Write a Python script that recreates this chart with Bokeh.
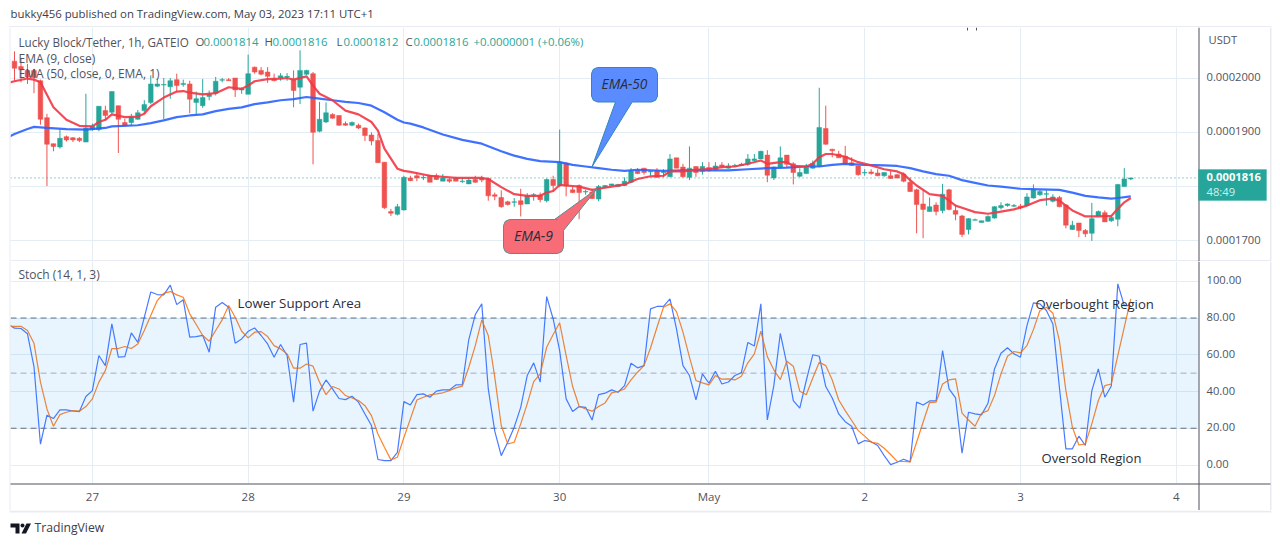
from bokeh.embed import file_html
from bokeh.layouts import column
from bokeh.models import (BoxAnnotation, ColumnDataSource, FixedTicker, Label,
                          Range1d)
from bokeh.plotting import figure
from bokeh.resources import INLINE

# ---- data (prices in units of 0.0000001 USDT, index = hourly bar) ----
opens = [
 2031,2021,2014,2014,1995,1927,1879,1873,1892,1890,
 1889,1882,1905,1905,1940,1937,1949,1918,1918,1924,
 1940,1955,1985,1987,1984,1997,1988,1989,1955,1949,
 1966,1972,1996,1997,2000,1978,1970,2020,2014,2011,
 1998,2000,2002,1997,1983,2007,2008,1902,1919,1933,
 1931,1916,1913,1913,1908,1895,1885,1845,1754,1749,
 1757,1816,1820,1816,1821,1820,1810,1813,1816,1809,
 1805,1813,1816,1815,1785,1780,1772,1771,1774,1768,
 1784,1784,1774,1813,1802,1843,1794,1802,1790,1790,
 1777,1799,1802,1800,1802,1808,1829,1834,1827,1829,
 1826,1818,1853,1836,1817,1837,1828,1835,1831,1840,
 1834,1838,1839,1841,1848,1851,1858,1816,1836,1858,
 1842,1819,1824,1834,1838,1907,1869,1860,1856,1844,
 1838,1825,1827,1825,1820,1820,1822,1823,1808,1794,
 1768,1754,1766,1756,1794,1756,1746,1721,1738,1734,
 1736,1742,1761,1765,1764,1764,1765,1779,1785,1786,
 1773,1780,1766,1721,1733,1719,1714,1746,1752,1737,
 1740,1800,1814]
highs = [
 2049,2035,2026,2017,1997,1934,1879,1906,1894,1891,
 1891,1971,1916,1948,1949,1975,1949,1925,1934,1941,
 1959,2005,1998,2000,2000,2008,1997,1995,1975,1998,
 1977,2002,2000,2000,2000,1983,2043,2021,2020,2020,
 2008,2009,2009,2014,2051,2015,2011,1956,1955,1935,
 1931,1920,1920,1916,1909,1900,1897,1845,1759,1768,
 1820,1820,1826,1821,1821,1824,1823,1817,1818,1816,
 1817,1820,1820,1817,1789,1793,1774,1779,1796,1788,
 1788,1789,1815,1820,1905,1845,1800,1804,1794,1796,
 1803,1803,1805,1805,1817,1834,1834,1834,1829,1834,
 1832,1860,1853,1842,1874,1837,1845,1845,1845,1845,
 1843,1842,1844,1860,1860,1866,1867,1837,1874,1858,
 1845,1834,1842,1848,1982,1949,1869,1866,1875,1854,
 1838,1832,1832,1832,1826,1829,1823,1826,1817,1796,
 1793,1780,1771,1805,1796,1765,1748,1742,1741,1737,
 1747,1764,1771,1769,1768,1768,1788,1804,1794,1793,
 1786,1783,1768,1737,1733,1722,1770,1756,1756,1746,
 1805,1834,1816]
lows = [
 1995,1992,1989,1972,1914,1801,1865,1870,1883,1882,
 1882,1882,1903,1902,1922,1934,1862,1911,1913,1923,
 1934,1952,1983,1924,1962,1974,1984,1935,1932,1945,
 1959,1968,1992,1995,1965,1971,1970,2008,2005,1991,
 1994,1995,1995,1946,1952,2005,1841,1900,1917,1925,
 1912,1912,1911,1906,1884,1876,1844,1759,1746,1747,
 1756,1810,1810,1812,1808,1812,1810,1807,1810,1807,
 1805,1807,1808,1774,1775,1761,1765,1763,1745,1768,
 1774,1771,1771,1791,1799,1782,1788,1740,1785,1777,
 1773,1798,1801,1799,1801,1807,1823,1822,1820,1816,
 1817,1818,1834,1817,1812,1818,1822,1828,1829,1834,
 1833,1837,1838,1838,1847,1851,1808,1812,1834,1836,
 1804,1817,1823,1833,1837,1877,1854,1853,1840,1838,
 1820,1820,1822,1819,1818,1814,1815,1808,1790,1714,
 1705,1754,1747,1751,1756,1738,1707,1712,1738,1734,
 1735,1741,1758,1763,1762,1758,1764,1778,1783,1765,
 1771,1762,1723,1720,1707,1707,1700,1745,1735,1735,
 1727,1800,1812]
closes = [
 2018,2015,2002,2001,1924,1878,1874,1889,1886,1886,
 1885,1908,1911,1948,1931,1975,1924,1912,1928,1936,
 1951,1989,1989,1988,1995,1986,1990,1961,1962,1964,
 1970,1994,1997,1995,1978,1980,2008,2011,2007,2003,
 1995,2004,2003,1977,2014,2014,1900,1924,1936,1926,
 1913,1913,1918,1908,1894,1884,1844,1761,1751,1763,
 1817,1811,1816,1817,1808,1813,1816,1810,1810,1810,
 1812,1808,1812,1783,1782,1763,1767,1772,1767,1783,
 1785,1776,1813,1802,1845,1801,1789,1789,1791,1778,
 1800,1802,1805,1804,1810,1829,1824,1826,1828,1817,
 1827,1851,1834,1818,1834,1826,1837,1829,1838,1837,
 1838,1839,1841,1851,1851,1865,1821,1836,1853,1841,
 1826,1826,1835,1843,1909,1878,1866,1853,1842,1839,
 1822,1826,1824,1820,1826,1815,1816,1810,1791,1767,
 1758,1763,1754,1786,1758,1749,1712,1741,1739,1737,
 1745,1763,1765,1768,1765,1761,1781,1794,1791,1787,
 1781,1763,1729,1729,1719,1713,1741,1754,1735,1743,
 1804,1814,1816]

ema9_bars = [-1,0,2,3,4,6,8,10,12,13,14,15,17,19,20,21,23,25,26,27,29,31,33,35,36,37,39,41,42,43,45,46,47,49,51,53,55,56,57,59,60,61,64,68,72,73,75,77,79,81,82,83,84,85,87,89,90,92,94,96,98,100,101,103,105,107,109,111,113,115,116,118,119,120,122,123,124,125,126,128,130,132,134,136,137,138,139,141,143,144,145,146,148,150,152,154,156,158,160,161,162,163,165,167,169,170,171,172]
ema9_vals = [1991,1994,1999,1997,1992,1946,1923,1912,1911,1919,1923,1933,1928,1929,1934,1948,1964,1975,1976,1973,1970,1972,1983,1980,1986,1994,1998,1999,2000,1997,2003,1986,1971,1959,1940,1933,1919,1903,1870,1833,1829,1827,1820,1816,1816,1814,1799,1786,1783,1783,1789,1792,1803,1802,1800,1794,1796,1800,1804,1814,1819,1820,1828,1828,1831,1832,1836,1837,1842,1848,1842,1845,1845,1838,1837,1842,1854,1860,1860,1855,1845,1839,1832,1828,1823,1812,1802,1786,1783,1774,1765,1761,1753,1750,1754,1758,1765,1775,1778,1774,1765,1756,1745,1745,1746,1759,1771,1779]
ema50_bars = [-1,0,2,3,5,8,11,14,15,19,21,23,25,27,29,31,33,35,37,39,41,43,45,47,49,51,53,55,57,59,60,61,63,66,69,72,75,77,79,81,84,86,88,90,92,94,96,100,103,106,110,113,116,119,122,124,126,128,131,134,136,138,140,142,144,146,148,150,152,155,158,161,163,165,167,169,170,172]
ema50_vals = [1891,1897,1906,1910,1908,1906,1905,1908,1911,1913,1917,1922,1928,1931,1933,1939,1943,1946,1952,1955,1959,1961,1965,1962,1959,1956,1954,1949,1937,1923,1918,1916,1909,1896,1886,1879,1865,1857,1851,1847,1845,1840,1837,1834,1831,1829,1831,1829,1830,1830,1830,1832,1834,1835,1837,1837,1840,1842,1840,1839,1838,1834,1828,1823,1820,1812,1807,1802,1800,1796,1795,1794,1789,1783,1780,1778,1779,1782]

# stochastic values start one bar before the first whole candle (bar -1)
stoch_k = [
 76.8,
 74.5,74.3,71.4,53.6,11.3,27.1,25.3,30,30,29.4,
 29.1,37.3,40.5,59.6,54.1,76.8,58.7,59,71.9,66.8,
 80.4,94.2,92.8,92.6,97.9,87.3,89.9,69.6,69.9,70.6,
 61.4,85.9,88.4,85.9,66.3,68.6,72.8,74.6,70.5,65.9,
 58.7,65.6,59.6,34.2,65.6,66.3,29.3,40.2,46.3,41.4,
 36.2,35.6,37.4,34.2,27.8,21.5,3,2.4,2.4,6.9,
 34.5,32.7,38.3,38.7,36.9,40.2,40.9,40.9,43.6,43.8,
 68.3,81.9,87.7,41.4,18.4,5.1,12.4,20.6,31.4,48.7,
 55.6,45.1,91.7,79.5,62.3,36,29.1,31.8,31.4,24.5,
 38.3,39.1,40.9,39.6,43.2,55.4,52.9,54.1,85,86.3,
 86.3,90.4,74.1,54.1,48.7,35.4,49.6,44.5,51,44.1,
 45.2,48.7,50.3,66.7,64.8,87.7,24.5,43.2,71.7,55,
 35.1,30.9,46,60,59.2,42.7,36.5,27.8,23.6,21.1,
 11.5,13.3,12.7,10.6,5.1,0.2,1.5,3.1,1.7,34.2,
 32.7,34.9,34.9,62.3,41.4,36.5,6.4,28.7,27.8,27.3,
 33.6,52.3,60.8,63.8,60.5,58.7,75.9,88.3,87.7,84.1,
 76.8,42.3,8.8,8.8,15.7,10.6,40.5,52.3,36.9,43,
 98.6,86.8,86.8]
stoch_d = [
 75.5,
 75.5,75.5,73.2,66.3,45.1,30.5,21.1,27.4,28.7,29.6,
 29.3,31.8,36,45.1,51.4,63.4,63.4,64.5,63.4,65.9,
 73.2,81.4,89.5,93.5,94.4,92.6,91.3,82.3,76.5,70.5,
 67.4,73.2,79,86.8,80.4,72.8,69.2,72.3,72.6,69.9,
 65,63.2,60.5,52.7,52.7,55,53.8,45.1,38.3,42.7,
 41.4,37.8,36.5,35.1,32.3,26.9,16.9,9.7,2.8,4.2,
 15,25.1,35.4,36.9,38.2,38.7,39.3,40.5,42,42.9,
 53.2,65,79,70.5,47.8,21.5,11.5,12.4,22.4,33.3,
 45.4,49.6,64.1,71,77.4,59.6,42.7,32,30.5,29.3,
 31.8,33.8,39.3,40,41.4,46.3,50.5,54.1,63.7,75,
 85.9,87.7,83.5,72.3,58.7,46,44.7,43.6,48.7,46.7,
 46.9,46.3,48.3,55.6,60.5,72.8,59,51.8,46.5,56.5,
 53.8,40.2,38.2,47.4,55.9,54.1,46.3,35.4,29.6,24.2,
 18.7,15.7,12.4,11.8,9.1,5.7,2,1.9,1.7,12.4,
 23.3,34,34.2,44.1,46.3,46.9,28.2,24.5,21.1,28.2,
 29.6,37.8,49.6,59.2,61.8,61,65,73.7,84.1,85.9,
 82.6,67.7,40.5,20.6,10.9,11.5,22.4,35.1,43.2,44.1,
 59.6,75,90.4]

time_ticks = [12,36,60,84,107,131,155,179]
time_labels = ["27","28","29","30","May","2","3","4"]
price_ticks = [1700,1800,1900,2000]
price_labels = {1700: "0.0001700", 1900: "0.0001900", 2000: "0.0002000"}
stoch_ticks = [0,20,40,60,80,100]
stoch_labels = ["0.00","20.00","40.00","60.00","80.00","100.00"]
last_price = 1816

# ---- pane geometry ----
W = 1272
FONT = "Open Sans"
GRID = "#e3edf3"
BORDER = "#e8ebf2"
TXT = "#50535e"
UP, DOWN = "#26a69a", "#ef5350"
X0, XPB = 14.0, 6.49        # pixel of bar 0, pixels per bar
P_Y, P_S = 77.5, 0.543      # pixel of price 2000, pixels per unit
S_Y, S_S = 464.5, 1.837     # pixel of stoch 0, pixels per unit

def bx(px): return (px - X0) / XPB
def py(y): return 2000 - (y - P_Y) / P_S
def sy(y): return (S_Y - y) / S_S

x_range = Range1d(bx(0), bx(W))

def pane(height, y_range, ticks):
    p = figure(width=W, height=height, x_range=x_range, y_range=y_range,
               output_backend="svg", toolbar_location=None,
               x_axis_location=None, y_axis_location=None,
               min_border_left=0, min_border_right=0,
               min_border_top=0, min_border_bottom=0,
               background_fill_color="white", border_fill_color="white",
               outline_line_color=None)
    p.ygrid.ticker = FixedTicker(ticks=ticks)
    p.ygrid.grid_line_color = GRID
    p.xgrid.ticker = FixedTicker(ticks=time_ticks)
    p.xgrid.grid_line_color = GRID
    return p

def text(p, x, y, s, color=TXT, size="12px", style="normal", align="left"):
    p.add_layout(Label(x=x, y=y, y_offset=1, text=s, text_color=color, text_font=FONT,
                       text_font_size=size, text_font_style=style,
                       text_align=align, text_baseline="middle"))

def block(p, yf, l, t, r, b, color):
    p.quad(left=[bx(l)], right=[bx(r)], top=[yf(t)], bottom=[yf(b)],
           fill_color=color, line_color=None)

def strip(height, y0, y1):
    f = figure(width=W, height=height, x_range=Range1d(0, W), y_range=Range1d(y1, y0),
               output_backend="svg", toolbar_location=None, x_axis_location=None,
               y_axis_location=None, outline_line_color=None,
               min_border_left=0, min_border_right=0, min_border_top=0, min_border_bottom=0)
    f.grid.visible = False
    return f

# ---- header ----
header = strip(27, 0, 27)
header.quad(left=[9], right=[1271], top=[25.5], bottom=[27], fill_color=BORDER, line_color=None)
text(header, 10, 14, "bukky456 published on TradingView.com, May 03, 2023 17:11 UTC+1", "#3a3e4a", "11.4px")

# ---- price pane ----
price = pane(234, Range1d(py(261), py(27)), price_ticks)
bars = list(range(len(opens)))
cols = [UP if c >= o else DOWN for o, c in zip(opens, closes)]
src = ColumnDataSource(dict(x=bars, o=opens, h=highs, l=lows, c=closes, col=cols))
price.segment("x", "h", "x", "l", source=src, color="col", line_width=1)
price.vbar("x", 0.72, "o", "c", source=src, fill_color="col", line_color="col", line_width=0.5)
price.line(ema50_bars, ema50_vals, line_color="#2962ff", line_width=2.2, line_alpha=0.9)
price.line(ema9_bars, ema9_vals, line_color="#f23645", line_width=2.2, line_alpha=0.9)
price.line([bx(10), bx(1198)], [last_price, last_price], line_color=UP,
           line_dash=[1, 3], line_width=1)
price.segment([bx(967), bx(976)], [py(27), py(27)], [bx(967), bx(976)], [py(30), py(30)],
              line_color="#555555", line_width=1)

def callout(p, pts_px, fill, edge):
    p.patch([bx(a) for a, _ in pts_px], [py(b) for _, b in pts_px],
            fill_color=fill, line_color=edge, line_width=1)

def rounded(l, t, r, b, rad=6):
    k = 0.3 * rad
    return [(l + rad, t), (l + k, t + k), (l, t + rad),
            (l, b - rad), (l + k, b - k), (l + rad, b),
            (r - rad, b), (r - k, b - k), (r, b - rad),
            (r, t + rad), (r - k, t + k), (r - rad, t)]

blue_pts = rounded(591, 67, 657, 101.5)
blue_pts = blue_pts[:6] + [(615, 101.5), (591.7, 166), (631.7, 101.5)] + blue_pts[6:]
callout(price, blue_pts, "#5b8cff", "#2f86b8")
red_pts = rounded(503, 219, 563, 253)
red_pts = red_pts[:9] + [(563, 230), (596.7, 188), (554, 219)] + red_pts[11:]
callout(price, red_pts, "#f76c77", "#5e8b8e")

block(price, py, 0, 27, 10, 261, "white")
block(price, py, 1198, 27, W, 261, "white")
block(price, py, 9, 27, 10, 261, BORDER)
block(price, py, 1269.5, 27, 1271, 261, BORDER)
block(price, py, 10, 259.5, 1270, 261, BORDER)
block(price, py, 1198, 27, 1199, 261, TXT)

text(price, bx(624), py(84), "EMA-50", "#2a2e39", "13.8px", "italic", "center")
text(price, bx(533), py(236), "EMA-9", "#2a2e39", "14px", "italic", "center")
text(price, bx(18), py(42), "Lucky Block/Tether, 1h, GATEIO", TXT, "11.7px")
for xp, s, c in [(195, "O", TXT), (203, "0.0001814", UP), (264, "H", TXT), (272, "0.0001816", UP),
                 (336, "L", TXT), (343, "0.0001812", UP), (405, "C", TXT), (413, "0.0001816", UP),
                 (473, "+0.0000001 (+0.06%)", UP)]:
    text(price, bx(xp), py(42), s, c, "11.4px")
text(price, bx(18), py(59), "EMA (9, close)", TXT, "12px")
text(price, bx(18), py(74), "EMA (50, close, 0, EMA, 1)", TXT, "12px")
text(price, bx(1208), py(40), "USDT", TXT, "11.2px")
for t, s in price_labels.items():
    text(price, bx(1206), t, s, TXT, "11.2px")

price.add_layout(BoxAnnotation(left=bx(1198), right=bx(1266), top=py(169), bottom=py(200),
                               fill_color=UP, fill_alpha=1, line_color=UP))
text(price, bx(1206), py(177.5), "0.0001816", "white", "11.2px", "bold")
text(price, bx(1206), py(192), "48:49", "#d5efec", "11.2px")

# ---- stochastic pane ----
stoch = pane(249, Range1d(sy(510), sy(261)), stoch_ticks)
stoch.add_layout(BoxAnnotation(left=bx(10), right=bx(1198), bottom=20, top=80,
                               fill_color="#2196f3", fill_alpha=0.1, line_alpha=0))
for lvl, c in [(80, "#6a6d78"), (50, "#aeb1ba"), (20, "#6a6d78")]:
    stoch.line([bx(10), bx(1198)], [lvl, lvl], line_color=c, line_dash=[6, 4], line_width=1)
stoch_bars = list(range(-1, len(opens)))
stoch.line(stoch_bars, stoch_k, line_color="#2962ff", line_width=1.2, line_alpha=0.85)
stoch.line(stoch_bars, stoch_d, line_color="#ff6d00", line_width=1.2, line_alpha=0.85)
block(stoch, sy, 0, 261, 10, 510, "white")
block(stoch, sy, 1198, 261, W, 510, "white")
block(stoch, sy, 10, 483, W, 510, "white")
block(stoch, sy, 9, 261, 10, 510, BORDER)
block(stoch, sy, 1269.5, 261, 1271, 510, BORDER)
block(stoch, sy, 1198, 261, 1199, 510, TXT)
block(stoch, sy, 10, 483, 1270, 484, TXT)

text(stoch, bx(18), sy(275), "Stoch (14, 1, 3)", TXT, "12px")
text(stoch, bx(237), sy(303), "Lower Support Area", "#2a2e39", "13.3px")
text(stoch, bx(1035), sy(304), "Overbought Region", "#2a2e39", "13.1px")
text(stoch, bx(1041), sy(458), "Oversold Region", "#2a2e39", "13.1px")
for t, s in zip(stoch_ticks, stoch_labels):
    text(stoch, bx(1206), t, s, TXT, "11.2px")
for t, s in zip(time_ticks, time_labels):
    text(stoch, t, sy(497), s, TXT, "11.5px", align="center")

# ---- footer ----
footer = strip(30, 510, 540)
footer.quad(left=[9], right=[1271], top=[510], bottom=[512], fill_color=BORDER, line_color=None)
INK = "#131722"
footer.patch([10, 19, 19, 15, 15, 10], [523, 523, 533, 533, 527, 527], fill_color=INK, line_color=None)
footer.circle([22], [525], radius=2, fill_color=INK, line_color=None)
footer.patch([26, 30.5, 25.5, 21], [523, 523, 533, 533], fill_color=INK, line_color=None)
text(footer, 34, 528, "TradingView", "#3a3e4a", "12.2px")

page = column(header, price, stoch, footer, spacing=0)
open("out.html", "w").write(file_html(page, INLINE))
